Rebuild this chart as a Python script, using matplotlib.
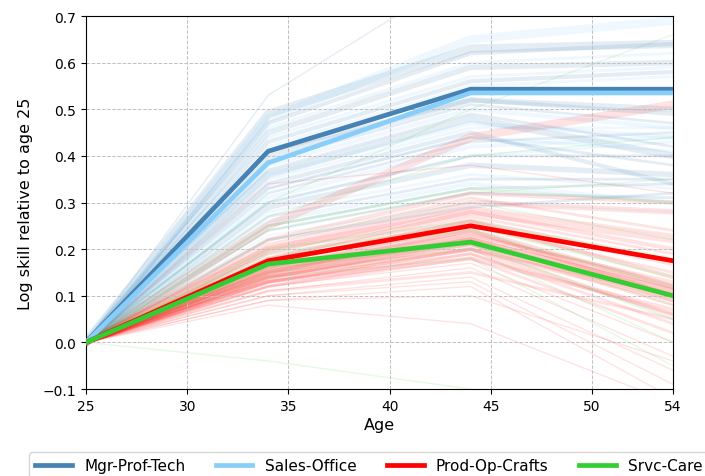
import matplotlib
matplotlib.use("Agg")
import matplotlib.pyplot as plt
import numpy as np

ages = [25, 34, 44, 54]

# main group profiles
groups = ["Mgr-Prof-Tech", "Sales-Office", "Prod-Op-Crafts", "Srvc-Care"]
group_colors = ["steelblue", "lightskyblue", "red", "limegreen"]
mgr = [0.0, 0.41, 0.543, 0.543]
sales = [0.0, 0.385, 0.535, 0.535]
prod = [0.0, 0.175, 0.25, 0.175]
srvc = [0.0, 0.168, 0.215, 0.10]
main_values = [mgr, sales, prod, srvc]

# background occupation profiles (value at 34, 44, 54; 0 at 25)
b34 = [0.53, 0.49, 0.48, 0.47, 0.46, 0.45, 0.44, 0.43, 0.42, 0.40, 0.39, 0.38, 0.37, 0.36, 0.35, 0.34,
       0.33, 0.32, 0.31, 0.30, 0.29, 0.28, 0.27, 0.26, 0.25, 0.24, 0.23, 0.22, 0.36, 0.33, 0.30, 0.41]
b44 = [0.80, 0.63, 0.65, 0.62, 0.60, 0.59, 0.57, 0.56, 0.55, 0.52, 0.51, 0.50, 0.49, 0.48, 0.46, 0.45,
       0.44, 0.43, 0.42, 0.40, 0.38, 0.36, 0.35, 0.34, 0.33, 0.32, 0.30, 0.29, 0.47, 0.44, 0.40, 0.52]
b54 = [0.90, 0.64, 0.69, 0.64, 0.62, 0.60, 0.59, 0.58, 0.57, 0.50, 0.47, 0.46, 0.42, 0.40, 0.46, 0.34,
       0.41, 0.45, 0.44, 0.40, 0.36, 0.33, 0.35, 0.30, 0.34, 0.31, 0.28, 0.32, 0.44, 0.38, 0.43, 0.49]
b_w = [1, 6, 6, 3, 2, 4, 2, 3, 2, 4, 2, 3, 2, 5, 2, 3, 2, 2, 3, 2, 4, 2, 2, 3, 2, 2, 1, 2, 3, 2, 2, 3]
b_c = [0, 0, 1, 0, 1, 0, 1, 0, 1, 0, 0, 1, 0, 0, 1, 0, 1, 0, 1, 0, 0, 1, 0, 1, 0, 0, 1, 0, 1, 0, 1, 0]

r34 = [0.25, 0.34, 0.22, 0.21, 0.20, 0.19, 0.18, 0.18, 0.17, 0.17, 0.16, 0.16, 0.15, 0.15, 0.15, 0.14,
       0.14, 0.14, 0.13, 0.13, 0.13, 0.12, 0.12, 0.11, 0.11, 0.10, 0.10, 0.09, 0.09, 0.08, 0.16, 0.14,
       0.20, 0.12, 0.15, 0.13]
r44 = [0.44, 0.38, 0.32, 0.31, 0.30, 0.29, 0.28, 0.27, 0.26, 0.26, 0.25, 0.24, 0.24, 0.23, 0.22, 0.22,
       0.21, 0.20, 0.20, 0.19, 0.18, 0.18, 0.17, 0.16, 0.15, 0.14, 0.13, 0.12, 0.10, 0.04, 0.23, 0.21,
       0.28, 0.19, 0.22, 0.20]
r54 = [0.51, 0.32, 0.30, 0.24, 0.28, 0.23, 0.20, 0.19, 0.17, 0.14, 0.15, 0.12, 0.10, 0.13, 0.09, 0.11,
       0.08, 0.06, 0.10, 0.04, 0.07, 0.02, 0.00, -0.03, 0.05, -0.06, -0.09, -0.12, -0.04, -0.13, 0.12, 0.10,
       0.22, 0.06, 0.11, 0.09]
r_w = [6, 1, 3, 2, 4, 2, 3, 2, 4, 3, 2, 4, 3, 2, 3, 4, 2, 3, 2, 2, 3, 2, 1, 1, 2, 1, 1, 1, 1, 1, 4, 3,
       5, 2, 4, 3]

g34 = [0.30, 0.27, 0.25, 0.22, 0.20, 0.18, 0.17, 0.16, 0.15, -0.04, 0.24, 0.19, 0.14]
g44 = [0.50, 0.40, 0.33, 0.30, 0.26, 0.24, 0.22, 0.21, 0.20, -0.10, 0.32, 0.25, 0.18]
g54 = [0.66, 0.44, 0.30, 0.22, 0.18, 0.12, 0.08, 0.05, 0.00, -0.16, 0.35, 0.14, -0.05]
g_w = [1, 1, 2, 1, 2, 2, 1, 2, 1, 1, 1, 2, 1]

fig = plt.figure(figsize=(7.05, 4.77), dpi=100)
ax = fig.add_axes([86 / 705, 1 - 390 / 477, 587 / 705, 373 / 477])

for v34, v44, v54, w, c in zip(b34, b44, b54, b_w, b_c):
    ax.plot(ages, [0.0, v34, v44, v54], color=["steelblue", "lightskyblue"][c], alpha=0.14, lw=w, zorder=1)
for v34, v44, v54, w in zip(r34, r44, r54, r_w):
    ax.plot(ages, [0.0, v34, v44, v54], color="red", alpha=0.11, lw=w, zorder=1)
for v34, v44, v54, w in zip(g34, g44, g54, g_w):
    ax.plot(ages, [0.0, v34, v44, v54], color="limegreen", alpha=0.12, lw=w, zorder=1)

for name, col, vals in zip(groups, group_colors, main_values):
    ax.plot(ages, vals, color=col, lw=3.4, label=name, zorder=3)

ax.set_xlim(25, 54)
ax.set_ylim(-0.1, 0.7)
ax.set_xticks([25, 30, 35, 40, 45, 50, 54])
ax.set_yticks(np.round(np.arange(-0.1, 0.71, 0.1), 1))
ax.grid(True, ls="--", color="#c0c0c0", lw=0.7)
ax.tick_params(labelsize=10)
ax.set_xlabel("Age", fontsize=11.5, labelpad=3)
ax.set_ylabel("Log skill relative to age 25", fontsize=11.5, labelpad=7)

handles, labels = ax.get_legend_handles_labels()
fig.legend(handles, labels, loc="upper left", bbox_to_anchor=(29 / 705, 1 - 453 / 477),
           borderaxespad=0.0, ncol=4, fontsize=11, handlelength=2.4, columnspacing=2.0, frameon=True)

fig.savefig("out.png", dpi=100)
